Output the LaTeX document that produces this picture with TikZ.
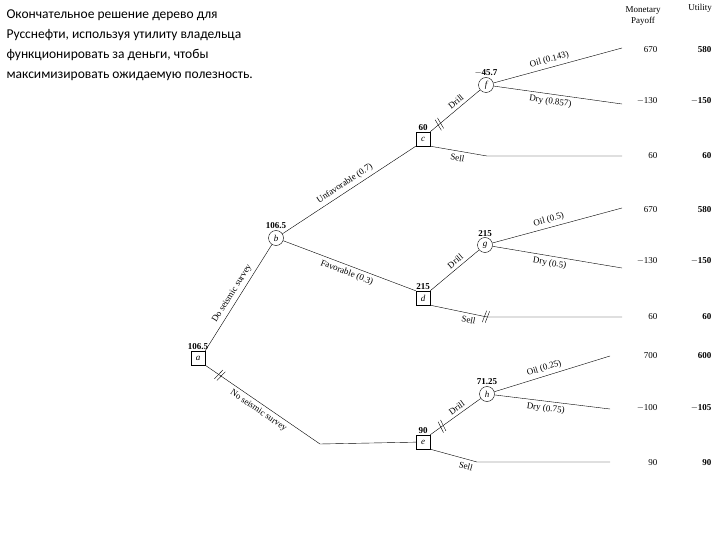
\documentclass[tikz,border=0pt]{standalone}
\usepackage{fontspec}
\setmainfont{Liberation Serif}
\newfontfamily\titlefont{Carlito}
\usetikzlibrary{decorations.markings}
\begin{document}
\begin{tikzpicture}[x=1pt,y=-1pt,
  dec/.style={draw,minimum size=14pt,inner sep=0pt,font=\itshape\small},
  chn/.style={draw,circle,minimum size=15pt,inner sep=0pt,font=\itshape\small},
  ev/.style={font=\bfseries\small,anchor=south,inner sep=1pt},
  lab/.style={font=\small,sloped,midway},
  val/.style={font=\small,anchor=east},
  ut/.style={font=\bfseries\small,anchor=east},
  hashmark/.style={decoration={markings,mark=at position #1 with {\draw (-1.5,-6)--(-3.5,6) (1.5,-6)--(-0.5,6);}},postaction=decorate}]
\useasboundingbox (0,0) rectangle (720,540);
\node[anchor=north west,align=left,font=\titlefont\fontsize{13.5}{20}\selectfont] (title) at (3,6)
 {Окончательное решение дерево для\\Русснефти, используя утилиту владельца\\функционировать за деньги, чтобы\\максимизировать ожидаемую полезность.};
\node[dec] (a) at (198,358) {a};
\node[chn] (b) at (276,238) {b};
\node[dec] (c) at (423,139) {c};
\node[dec] (d) at (423,298) {d};
\node[dec] (e) at (423,442) {e};
\node[chn] (f) at (486,85) {f};
\node[chn] (g) at (485,245) {g};
\node[chn] (h) at (487,394) {h};
\node[ev] (va) at (a.north) {106.5};
\node[ev] (vb) at (b.north) {106.5};
\node[ev] (vc) at (c.north) {60};
\node[ev] (vd) at (d.north) {215};
\node[ev] (ve) at (e.north) {90};
\node[ev] (vf) at (f.north) {$-$45.7};
\node[ev] (vg) at (g.north) {215};
\node[ev] (vh) at (h.north) {71.25};
\coordinate (f1) at (622,48); \coordinate (f2) at (622,104);
\coordinate (c1) at (487,156); \coordinate (c2) at (622,156);
\coordinate (g1) at (622,208); \coordinate (g2) at (622,268);
\coordinate (d1) at (487,317); \coordinate (d2) at (622,317);
\coordinate (h1) at (610,356); \coordinate (h2) at (610,409);
\coordinate (e1) at (477,462); \coordinate (e2) at (610,462);
\coordinate (ae) at (320,444);
\draw (a.north east) -- node[lab,above]{Do seismic survey} (b);
\draw (b) -- node[lab,above]{Unfavorable (0.7)} (c.south west);
\draw (b) -- node[lab,below]{Favorable (0.3)} (d.north west);
\draw[hashmark=0.08] (a.south east) -- node[lab,below]{No seismic survey} (ae) -- (e);
\draw[hashmark=0.2] (c.north east) -- node[lab,above,pos=0.6]{Drill} (f);
\draw (c.south east) -- node[lab,below,pos=0.5]{Sell} (c1) -- (c2);
\draw (d.north east) -- node[lab,above,pos=0.6]{Drill} (g);
\draw[hashmark=0.3] (d.south east) -- node[lab,below,pos=0.7]{Sell} (d1) -- (d2);
\draw[hashmark=0.25] (e.north east) -- node[lab,above,pos=0.6]{Drill} (h);
\draw (e.south east) -- node[lab,below,pos=0.8]{Sell} (e1) -- (e2);
\draw (f) -- node[lab,above,pos=0.45]{Oil (0.143)} (f1);
\draw (f) -- node[lab,below,pos=0.45]{Dry (0.857)} (f2);
\draw (g) -- node[lab,above,pos=0.45]{Oil (0.5)} (g1);
\draw (g) -- node[lab,below,pos=0.45]{Dry (0.5)} (g2);
\draw (h) -- node[lab,above,pos=0.45]{Oil (0.25)} (h1);
\draw (h) -- node[lab,below,pos=0.45]{Dry (0.75)} (h2);
\node[font=\small,align=center,inner sep=0pt] (mh) at (643,16) {Monetary\\Payoff};
\node[font=\small,inner sep=0pt] (uh) at (700,8) {Utility};
\foreach \y/\m/\u in {50/670/580,101/$-$130/$-$150,156/60/60,210/670/580,261/$-$130/$-$150,317/60/60,356/700/600,408/$-$100/$-$105,463/90/90}{
  \node[val] at (661,\y) {\m};
  \node[ut] at (715,\y) {\u};
}
\end{tikzpicture}
\end{document}
